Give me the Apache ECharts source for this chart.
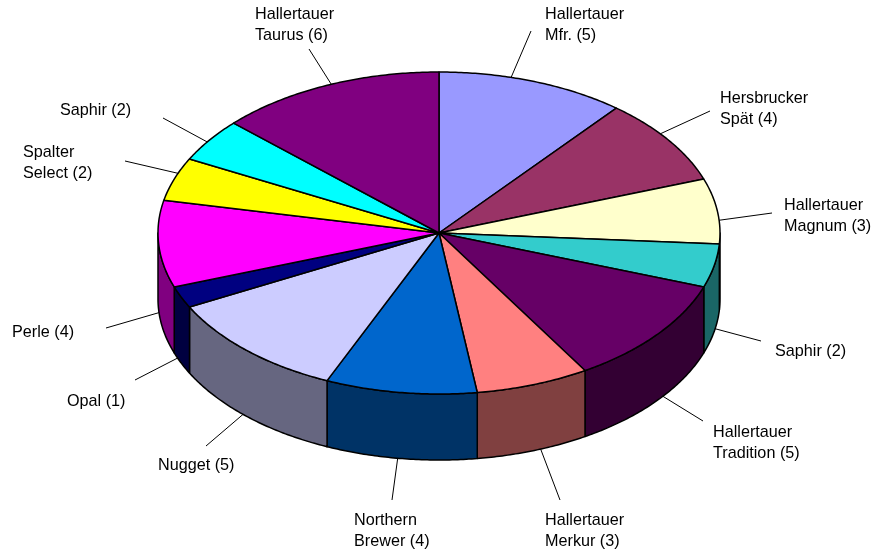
<!DOCTYPE html>
<html><head><meta charset="utf-8">
<style>html,body{margin:0;padding:0;background:#fff}#c{width:873px;height:550px}</style>
<script src="https://cdn.jsdelivr.net/npm/echarts@6/dist/echarts.min.js"></script>
</head><body><div id="c"></div>
<script>
const categories = ["Hallertauer\nMfr.","Hersbrucker\nSpät","Hallertauer\nMagnum","Saphir","Hallertauer\nTradition","Hallertauer\nMerkur","Northern\nBrewer","Nugget","Opal","Perle","Spalter\nSelect","Saphir","Hallertauer\nTaurus"];
const values = [5,4,3,2,5,3,4,5,1,4,2,2,6];
const topColors = ["#9999FF","#993366","#FFFFCC","#33CCCC","#660066","#FF8080","#0066CC","#CCCCFF","#000080","#FF00FF","#FFFF00","#00FFFF","#800080"];
const wallColors = ["#4D4D80","#4D1A33","#808066","#1A6666","#330033","#804040","#003366","#666680","#000040","#800080","#808000","#008080","#400040"];
// layout of the callouts: where on its slice's arc each leader starts, where it ends, and the label's first-line position
const leaderFrac = [.38,.41,.64,.43,.45,.43,.52,.53,.75,.47,.64,.45,.52];
const leaderEnd = [[531,31],[710,111],[772,213],[761,341],[703,421],[560,500],[392,500],[206,446],[135,380],[106,328],[125,161],[163,118],[309,49]];
const labelPos = [[545,15],[720,99],[784,206],[775,352],[713,433],[545,521],[354,521],[158,466],[67,402],[12,333],[23,153],[60,111],[255,15]];

const CX=439, CY=233, RX=281, RY=161, DEPTH=66;
const total = values.reduce((a,b)=>a+b,0);
const starts = []; values.reduce((s,v,i)=>{starts[i]=s;return s+v;},0);
const ang = v => v/total*2*Math.PI;
const pt = (t,d=0) => [CX+RX*Math.sin(t), CY-RY*Math.cos(t)+d];
function arc(t0,t1,d){const n=Math.max(2,Math.ceil((t1-t0)/0.01));const p=[];for(let i=0;i<=n;i++)p.push(pt(t0+(t1-t0)*i/n,d));return p;}

const common = {type:'custom',coordinateSystem:'none',silent:true,animation:false,
  data:values.map((v,i)=>({value:[v,i]}))};
const option = {
  backgroundColor:'#fff',
  series:[
    Object.assign({},common,{name:'walls',z:1,renderItem(params,api){
      const i=api.value(1);
      const a=Math.max(ang(starts[i]),Math.PI/2), b=Math.min(ang(starts[i]+api.value(0)),1.5*Math.PI);
      if(b<=a) return {type:'group',children:[]};
      const pts=arc(a,b,0).concat(arc(a,b,DEPTH).reverse());
      return {type:'polygon',shape:{points:pts},style:{fill:wallColors[i],stroke:'#000',lineWidth:1.5,lineJoin:'round'}};
    }}),
    Object.assign({},common,{name:'tops',z:2,renderItem(params,api){
      const i=api.value(1);
      const a=ang(starts[i]), b=ang(starts[i]+api.value(0));
      const pts=[[CX,CY]].concat(arc(a,b,0));
      return {type:'polygon',shape:{points:pts},style:{fill:topColors[i],stroke:'#000',lineWidth:1.5,lineJoin:'round'}};
    }}),
    Object.assign({},common,{name:'labels',z:3,renderItem(params,api){
      const i=api.value(1), v=api.value(0);
      const t=ang(starts[i]+v*leaderFrac[i]);
      const front=t>Math.PI/2 && t<1.5*Math.PI;
      const s=pt(t,front?DEPTH:0), e=leaderEnd[i], l=labelPos[i];
      return {type:'group',children:[
        {type:'line',shape:{x1:s[0],y1:s[1],x2:e[0],y2:e[1]},style:{stroke:'#000',lineWidth:1}},
        {type:'text',x:l[0],y:l[1]-10.5,style:{text:categories[i]+' ('+v+')',fill:'#000',
          font:'16.2px "Liberation Sans", Arial, sans-serif',lineHeight:20.5,textAlign:'left',textVerticalAlign:'top'}}
      ]};
    }})
  ]
};
const chart=echarts.init(document.getElementById('c'),null,{renderer:'canvas'});
chart.setOption(option);
</script></body></html>
